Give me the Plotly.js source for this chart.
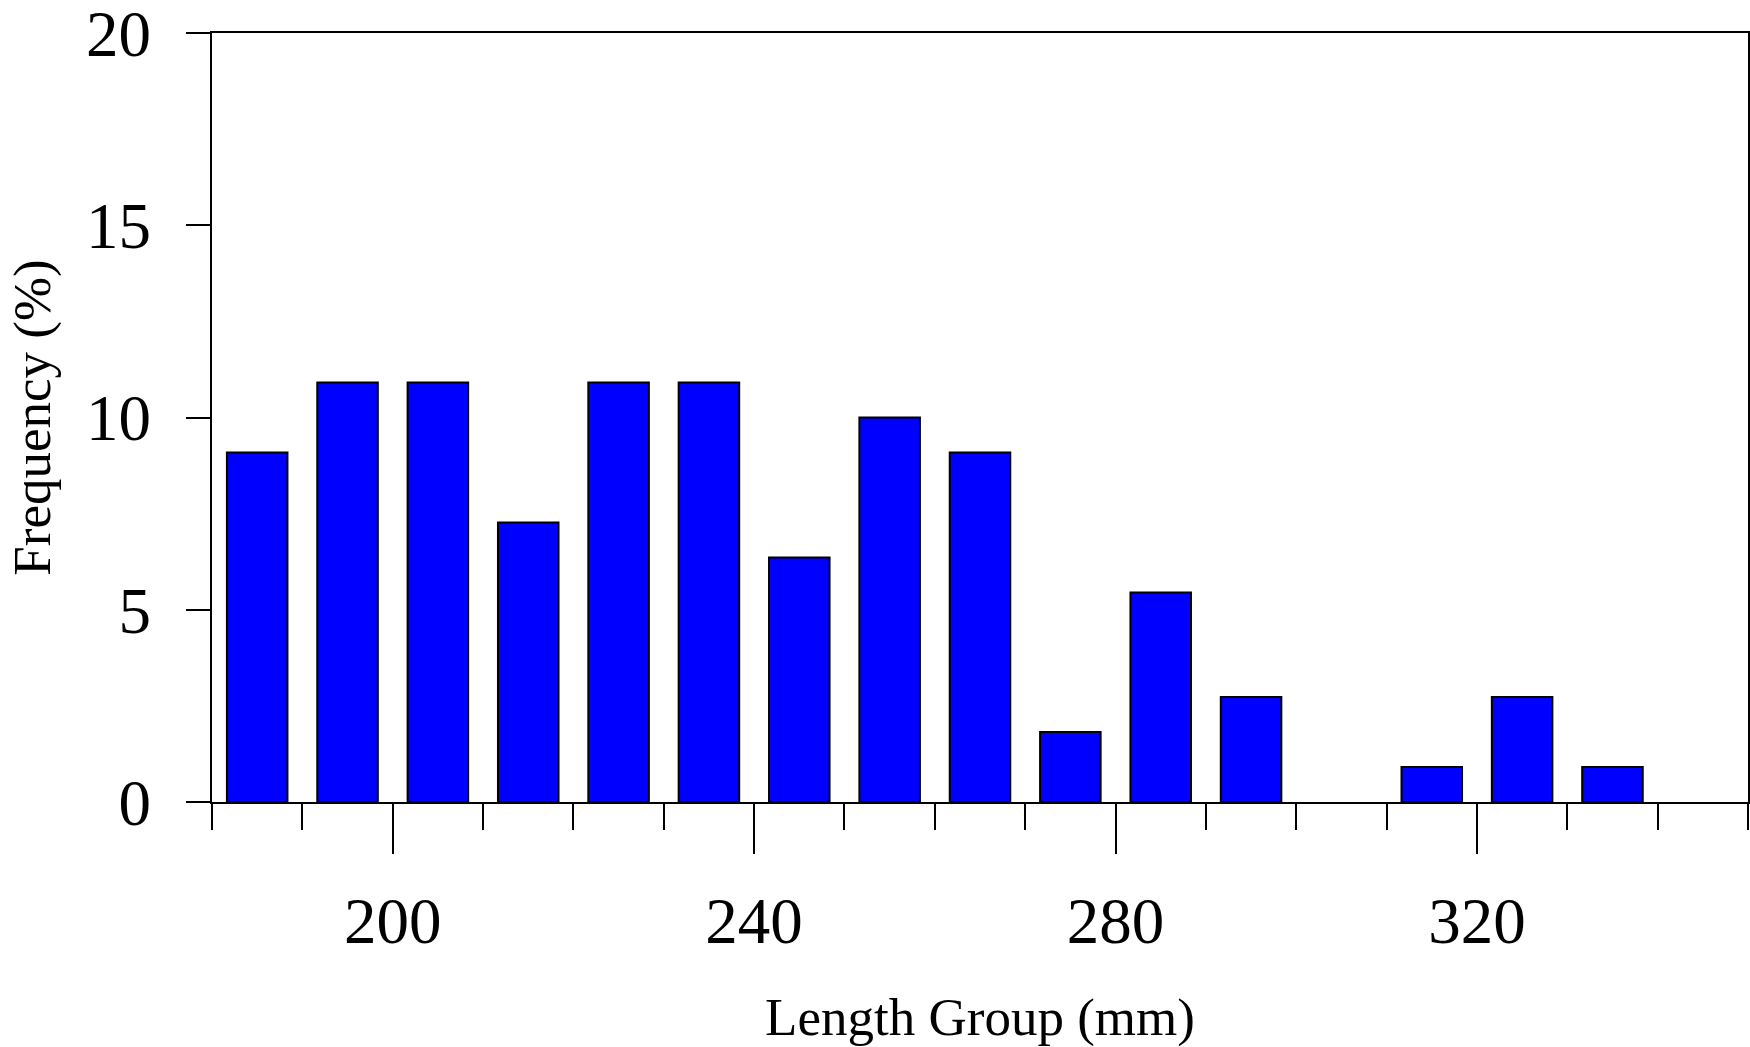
<!DOCTYPE html>
<html>
<head>
<meta charset="utf-8">
<script src="https://cdn.plot.ly/plotly-3.0.1.min.js"></script>
<style>html,body{margin:0;padding:0;background:#fff;}#chart{width:1750px;height:1047px;}</style>
</head>
<body>
<div id="chart"></div>
<script>
// Length group midpoints (mm)
const lengthGroups = [185, 195, 205, 215, 225, 235, 245, 255, 265, 275, 285, 295, 305, 315, 325, 335];
// Frequency (%)
const frequency = [9.09, 10.91, 10.91, 7.27, 10.91, 10.91, 6.36, 10.0, 9.09, 1.82, 5.45, 2.73, 0, 0.91, 2.73, 0.91];
const xTitle = 'Length Group (mm)';
const yTitle = 'Frequency (%)';

const font = 'Liberation Serif, Times New Roman, serif';

const trace = {
  type: 'bar',
  x: lengthGroups,
  y: frequency,
  width: 6.7,
  marker: {
    color: '#0000ff',
    line: {color: '#000000', width: frequency.map(v => (v > 0 ? 2 : 0))}
  },
  hoverinfo: 'x+y'
};

const layout = {
  width: 1750,
  height: 1047,
  margin: {l: 212, r: 2, t: 33, b: 245},
  paper_bgcolor: '#ffffff',
  plot_bgcolor: '#ffffff',
  showlegend: false,
  font: {family: font, color: '#000000', size: 65},
  xaxis: {
    range: [180, 350],
    tick0: 200,
    dtick: 40,
    ticks: 'outside',
    ticklen: 50,
    tickwidth: 2,
    tickcolor: '#000000',
    minor: {dtick: 10, tick0: 180, ticks: 'outside', ticklen: 26, tickwidth: 2, tickcolor: '#000000', showgrid: false},
    ticklabelstandoff: 11,
    ticklabeloverflow: 'allow',
    showline: true,
    linecolor: '#000000',
    linewidth: 2,
    mirror: true,
    layer: 'above traces',
    showgrid: false,
    zeroline: false,
    automargin: 'bottom',
    tickfont: {family: font, size: 65, color: '#000000'},
    title: {text: xTitle, font: {family: font, size: 53, color: '#000000'}, standoff: 44}
  },
  yaxis: {
    range: [0, 20],
    tick0: 0,
    dtick: 5,
    ticks: 'outside',
    ticklen: 24,
    tickwidth: 2,
    tickcolor: '#000000',
    ticklabelstandoff: 22,
    ticklabeloverflow: 'allow',
    showline: true,
    linecolor: '#000000',
    linewidth: 2,
    mirror: true,
    layer: 'above traces',
    showgrid: false,
    zeroline: false,
    automargin: 'left',
    tickfont: {family: font, size: 65, color: '#000000'},
    title: {text: yTitle, font: {family: font, size: 53, color: '#000000'}, standoff: 18}
  }
};

Plotly.newPlot('chart', [trace], layout, {displayModeBar: false, responsive: false});
</script>
</body>
</html>
